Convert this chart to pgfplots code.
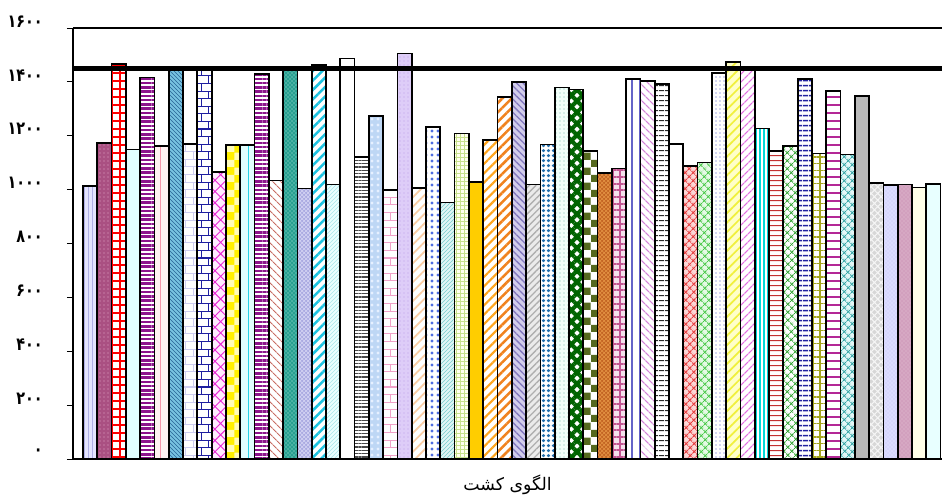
\documentclass[border=0pt]{standalone}
\usepackage{pgfplots}
\pgfplotsset{compat=1.18}
\usepackage{fontspec}
\usetikzlibrary{patterns,patterns.meta}
\newfontfamily\arabicfont[Script=Arabic]{DejaVu Sans}
\newfontfamily\digitfont[Script=Arabic, FakeStretch=0.8]{DejaVu Sans}
\TeXXeTstate=1
\newcommand{\pd}[1]{{\digitfont\bfseries #1}}
\begin{document}
\begin{tikzpicture}
\begin{axis}[
  at={(0,0)}, anchor=south west,
  scale only axis, width=651.75pt, height=323.25pt,
  xmin=-0.2, xmax=60.6, ymin=0, ymax=1600,
  enlargelimits=false,
  axis y line*=left, axis x line*=bottom,
  x axis line style={line width=2pt},
  y axis line style={line width=1.1pt},
  xtick=\empty,
  ytick={0,200,400,600,800,1000,1200,1400,1600},
  yticklabels={\pd{۰},\pd{۲۰۰},\pd{۴۰۰},\pd{۶۰۰},\pd{۸۰۰},\pd{۱۰۰۰},\pd{۱۲۰۰},\pd{۱۴۰۰},\pd{۱۶۰۰}},
  tick align=outside, major tick length=4.5pt,
  tick style={black, line width=0.6pt},
  yticklabel style={anchor=east, inner sep=0pt, xshift=-18pt, yshift=5pt, font=\fontsize{13.5}{13.5}\selectfont},
  xlabel={\arabicfont\beginR الگوی کشت\endR},
  every axis x label/.style={at={(axis description cs:0.5,0)}, anchor=center, yshift=-19.5pt, font=\fontsize{13}{13}\selectfont},
  bb/.style={ybar, bar width=1, bar shift=0pt, draw=black, line width=1.3pt},
]
\addplot[bb, preaction={fill={rgb,255:red,228;green,228;blue,255}}, pattern=vertical lines, pattern color={rgb,255:red,175;green,175;blue,230}] coordinates {(1,1013)};
\addplot[bb, preaction={fill={rgb,255:red,170;green,80;blue,130}}, pattern=dots, pattern color={rgb,255:red,230;green,170;blue,200}] coordinates {(2,1174)};
\addplot[bb, preaction={fill=white}, pattern={Hatch[angle=0,distance=6pt,line width=0.8pt]}, pattern color=red] coordinates {(3,1466)};
\addplot[bb, fill={rgb,255:red,225;green,255;blue,255}] coordinates {(4,1149)};
\addplot[bb, preaction={fill=white}, pattern={Lines[angle=0,distance=3.2pt,line width=1.9pt]}, pattern color={rgb,255:red,140;green,20;blue,140}] coordinates {(5,1416)};
\addplot[bb, preaction={fill={rgb,255:red,255;green,242;blue,242}}, pattern={Lines[angle=90,distance=6pt,line width=0.6pt]}, pattern color={rgb,255:red,245;green,150;blue,170}] coordinates {(6,1161)};
\addplot[bb, preaction={fill={rgb,255:red,120;green,195;blue,225}}, pattern=north west lines, pattern color={rgb,255:red,40;green,100;blue,150}] coordinates {(7,1450)};
\addplot[bb, preaction={fill=white}, pattern=bricks, pattern color={rgb,255:red,205;green,205;blue,240}] coordinates {(8,1169)};
\addplot[bb, preaction={fill=white}, pattern=bricks, pattern color={rgb,255:red,30;green,30;blue,160}] coordinates {(9,1450)};
\addplot[bb, preaction={fill={rgb,255:red,255;green,235;blue,255}}, pattern={Hatch[angle=45,distance=6pt,line width=0.7pt]}, pattern color={rgb,255:red,230;green,40;blue,210}] coordinates {(10,1066)};
\addplot[bb, preaction={fill={rgb,255:red,255;green,240;blue,0}}, pattern=checkerboard, pattern color={rgb,255:red,255;green,252;blue,185}] coordinates {(11,1165)};
\addplot[bb, preaction={fill={rgb,255:red,225;green,255;blue,255}}, pattern={Lines[angle=90,distance=6pt,line width=0.7pt]}, pattern color={rgb,255:red,40;green,210;blue,230}] coordinates {(12,1165)};
\addplot[bb, preaction={fill=white}, pattern={Lines[angle=0,distance=3.2pt,line width=1.9pt]}, pattern color={rgb,255:red,140;green,20;blue,140}] coordinates {(13,1429)};
\addplot[bb, preaction={fill=white}, pattern={Lines[angle=-45,distance=4pt,line width=0.8pt]}, pattern color={rgb,255:red,200;green,110;blue,100}] coordinates {(14,1034)};
\addplot[bb, preaction={fill={rgb,255:red,40;green,160;blue,145}}, pattern=crosshatch dots, pattern color={rgb,255:red,190;green,235;blue,225}] coordinates {(15,1450)};
\addplot[bb, preaction={fill={rgb,255:red,170;green,170;blue,225}}, pattern=crosshatch, pattern color={rgb,255:red,215;green,215;blue,245}] coordinates {(16,1004)};
\addplot[bb, preaction={fill=white}, pattern={Lines[angle=45,distance=5pt,line width=1.9pt]}, pattern color={rgb,255:red,30;green,195;blue,225}] coordinates {(17,1463)};
\addplot[bb, preaction={fill={rgb,255:red,235;green,255;blue,255}}, pattern=north east lines, pattern color={rgb,255:red,170;green,230;blue,235}] coordinates {(18,1019)};
\addplot[bb, fill=white] coordinates {(19,1487)};
\addplot[bb, preaction={fill=white}, pattern={Lines[angle=0,distance=2.5pt,line width=1.2pt]}, pattern color={rgb,255:red,70;green,70;blue,70}] coordinates {(20,1122)};
\addplot[bb, preaction={fill={rgb,255:red,190;green,215;blue,245}}, pattern={Dots[radius=1.2pt,distance=4.5pt]}, pattern color={rgb,255:red,230;green,240;blue,255}] coordinates {(21,1273)};
\addplot[bb, preaction={fill=white}, pattern=bricks, pattern color={rgb,255:red,240;green,160;blue,200}] coordinates {(22,998)};
\addplot[bb, preaction={fill={rgb,255:red,222;green,205;blue,248}}, pattern=dots, pattern color={rgb,255:red,190;green,160;blue,235}] coordinates {(23,1505)};
\addplot[bb, preaction={fill=white}, pattern={Lines[angle=45,distance=5pt,line width=1.3pt]}, pattern color={rgb,255:red,250;green,205;blue,165}] coordinates {(24,1007)};
\addplot[bb, preaction={fill=white}, pattern={Dots[radius=1.2pt,distance=4.5pt]}, pattern color={rgb,255:red,80;green,110;blue,225}] coordinates {(25,1233)};
\addplot[bb, preaction={fill={rgb,255:red,225;green,245;blue,245}}, pattern=north east lines, pattern color={rgb,255:red,120;green,205;blue,205}] coordinates {(26,952)};
\addplot[bb, preaction={fill={rgb,255:red,255;green,255;blue,238}}, pattern=grid, pattern color={rgb,255:red,200;green,225;blue,140}] coordinates {(27,1208)};
\addplot[bb, fill={rgb,255:red,255;green,205;blue,0}] coordinates {(28,1029)};
\addplot[bb, preaction={fill=white}, pattern={Lines[angle=45,distance=5pt,line width=1.6pt]}, pattern color={rgb,255:red,255;green,165;blue,30}] coordinates {(29,1184)};
\addplot[bb, preaction={fill=white}, pattern={Lines[angle=45,distance=5pt,line width=1.9pt]}, pattern color={rgb,255:red,240;green,130;blue,30}] coordinates {(30,1344)};
\addplot[bb, preaction={fill={rgb,255:red,210;green,205;blue,235}}, pattern={Lines[angle=-45,distance=3.5pt,line width=1pt]}, pattern color={rgb,255:red,130;green,120;blue,190}] coordinates {(31,1400)};
\addplot[bb, preaction={fill={rgb,255:red,235;green,235;blue,235}}, pattern={Lines[angle=45,distance=3.5pt,line width=1pt]}, pattern color={rgb,255:red,175;green,175;blue,175}] coordinates {(32,1019)};
\addplot[bb, preaction={fill=white}, pattern={Dots[radius=1.4pt,distance=4pt]}, pattern color={rgb,255:red,35;green,110;blue,170}] coordinates {(33,1168)};
\addplot[bb, preaction={fill={rgb,255:red,242;green,255;blue,250}}, pattern=dots, pattern color={rgb,255:red,120;green,190;blue,175}] coordinates {(34,1379)};
\addplot[bb, preaction={fill=white}, pattern={Hatch[angle=45,distance=6pt,line width=3pt]}, pattern color={rgb,255:red,0;green,100;blue,0}] coordinates {(35,1372)};
\addplot[bb, preaction={fill=white}, pattern=checkerboard, pattern color={rgb,255:red,85;green,105;blue,30}] coordinates {(36,1144)};
\addplot[bb, preaction={fill={rgb,255:red,195;green,100;blue,35}}, pattern=crosshatch, pattern color={rgb,255:red,230;green,150;blue,70}] coordinates {(37,1062)};
\addplot[bb, preaction={fill={rgb,255:red,245;green,225;blue,236}}, pattern={Hatch[angle=0,distance=5pt,line width=1.6pt]}, pattern color={rgb,255:red,195;green,85;blue,145}] coordinates {(38,1078)};
\addplot[bb, preaction={fill=white}, pattern={Lines[angle=90,distance=6pt,line width=0.8pt]}, pattern color={rgb,255:red,100;green,100;blue,200}] coordinates {(39,1410)};
\addplot[bb, preaction={fill=white}, pattern={Lines[angle=-45,distance=4pt,line width=1pt]}, pattern color={rgb,255:red,210;green,130;blue,215}] coordinates {(40,1404)};
\addplot[bb, preaction={fill=white}, pattern={Lines[angle=0,distance=4pt,line width=1pt]}, pattern color={rgb,255:red,40;green,40;blue,40}] coordinates {(41,1391)};
\addplot[bb, fill=white] coordinates {(42,1169)};
\addplot[bb, preaction={fill={rgb,255:red,252;green,215;blue,215}}, pattern={Hatch[angle=45,distance=4pt,line width=0.8pt]}, pattern color={rgb,255:red,230;green,60;blue,60}] coordinates {(43,1087)};
\addplot[bb, preaction={fill={rgb,255:red,230;green,250;blue,230}}, pattern={Hatch[angle=45,distance=4pt,line width=0.7pt]}, pattern color={rgb,255:red,70;green,200;blue,70}] coordinates {(44,1101)};
\addplot[bb, preaction={fill=white}, pattern=dots, pattern color={rgb,255:red,70;green,80;blue,200}] coordinates {(45,1433)};
\addplot[bb, preaction={fill={rgb,255:red,255;green,255;blue,200}}, pattern={Lines[angle=45,distance=5pt,line width=1.3pt]}, pattern color={rgb,255:red,240;green,240;blue,60}] coordinates {(46,1474)};
\addplot[bb, preaction={fill=white}, pattern={Lines[angle=45,distance=4pt,line width=1pt]}, pattern color={rgb,255:red,225;green,110;blue,225}] coordinates {(47,1450)};
\addplot[bb, preaction={fill=white}, pattern={Lines[angle=90,distance=3pt,line width=1.3pt]}, pattern color={rgb,255:red,0;green,215;blue,215}] coordinates {(48,1227)};
\addplot[bb, preaction={fill=white}, pattern={Lines[angle=0,distance=4pt,line width=1pt]}, pattern color={rgb,255:red,195;green,50;blue,50}] coordinates {(49,1143)};
\addplot[bb, preaction={fill=white}, pattern={Hatch[angle=45,distance=4pt,line width=0.7pt]}, pattern color={rgb,255:red,50;green,165;blue,50}] coordinates {(50,1161)};
\addplot[bb, preaction={fill=white}, pattern={Lines[angle=0,distance=4pt,line width=1.3pt]}, pattern color={rgb,255:red,35;green,35;blue,160}] coordinates {(51,1410)};
\addplot[bb, preaction={fill=white}, pattern={Hatch[angle=0,distance=5pt,line width=0.8pt]}, pattern color={rgb,255:red,165;green,165;blue,30}] coordinates {(52,1134)};
\addplot[bb, preaction={fill=white}, pattern={Lines[angle=0,distance=6pt,line width=1pt]}, pattern color={rgb,255:red,180;green,40;blue,150}] coordinates {(53,1367)};
\addplot[bb, preaction={fill={rgb,255:red,228;green,248;blue,248}}, pattern={Hatch[angle=45,distance=4pt,line width=0.7pt]}, pattern color={rgb,255:red,50;green,165;blue,165}] coordinates {(54,1130)};
\addplot[bb, fill={rgb,255:red,185;green,185;blue,185}] coordinates {(55,1348)};
\addplot[bb, preaction={fill={rgb,255:red,215;green,215;blue,215}}, pattern={Hatch[angle=45,distance=3.5pt,line width=0.8pt]}, pattern color={rgb,255:red,245;green,245;blue,245}] coordinates {(56,1025)};
\addplot[bb, preaction={fill={rgb,255:red,220;green,220;blue,255}}, pattern=crosshatch dots, pattern color={rgb,255:red,195;green,195;blue,245}] coordinates {(57,1017)};
\addplot[bb, preaction={fill={rgb,255:red,210;green,160;blue,190}}, pattern=crosshatch dots, pattern color={rgb,255:red,230;green,195;blue,215}] coordinates {(58,1019)};
\addplot[bb, fill={rgb,255:red,255;green,255;blue,232}] coordinates {(59,1008)};
\addplot[bb, fill={rgb,255:red,232;green,255;blue,255}] coordinates {(60,1022)};
\addplot[black, line width=3.2pt, forget plot] coordinates {(-0.2,1450) (60.6,1450)};
\draw[line width=1pt] (rel axis cs:0,1) -- (rel axis cs:1,1);
\end{axis}
\pgfresetboundingbox
\useasboundingbox (-54.75pt,-28.5pt) rectangle (651.75pt,344.25pt);
\end{tikzpicture}
\end{document}
